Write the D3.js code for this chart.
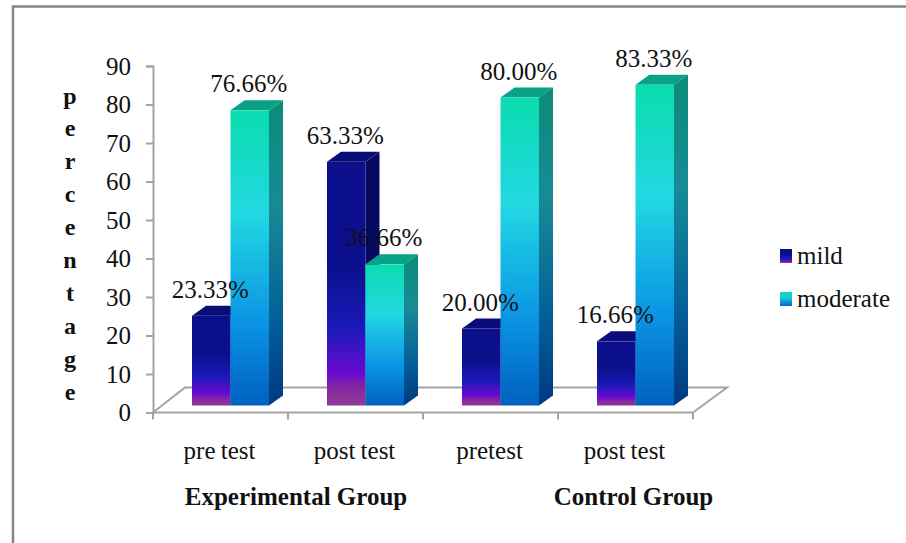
<!DOCTYPE html>
<html>
<head>
<meta charset="utf-8">
<script src="https://cdn.jsdelivr.net/npm/d3@7/dist/d3.min.js"></script>
<style>
  html, body { margin: 0; padding: 0; background: #fff; }
  svg { display: block; }
  text { font-family: "Liberation Serif", "Times New Roman", serif; fill: #111; }
</style>
</head>
<body>
<svg id="chart" width="906" height="543"></svg>
<script>
const categories = ["pre test", "post test", "pretest", "post test"];
const seriesNames = ["mild", "moderate"];
const mildValues = [23.33, 63.33, 20.00, 16.66];
const moderateValues = [76.66, 36.66, 80.00, 83.33];
const valueTicks = [0, 10, 20, 30, 40, 50, 60, 70, 80, 90];
const axisTitle = ["p", "e", "r", "c", "e", "n", "t", "a", "g", "e"];
const groupLabels = [
  { text: "Experimental Group", from: 0, to: 1 },
  { text: "Control Group", from: 3, to: 3 }
];

const svg = d3.select("#chart");
const AXIS_GREY = "#a3a3a3";

// Plot frame and the oblique depth of the 3D floor
const plotLeft = 153, plotRight = 693, plotBottom = 412.5, plotTop = 66;
const floorDx = 34, floorDy = 25;
const barDx = 14, barDy = 10, barBaseLift = 7;

const y = d3.scaleLinear().domain([0, 90]).range([plotBottom, plotTop]);
const x = d3.scaleBand().domain(d3.range(categories.length)).range([plotLeft, plotRight]);
const barW = 38.5;

// Outer chart border, open past the right and bottom edges of the page
svg.append("path")
  .attr("d", `M906,6.5 H13 V543`)
  .attr("fill", "none").attr("stroke", "#858585").attr("stroke-width", 2.5);

// Vertical gradients; each runs over the height of its own bar
const defs = svg.append("defs");
function gradient(id, stops) {
  const g = defs.append("linearGradient").attr("id", id)
    .attr("x1", 0).attr("y1", 0).attr("x2", 0).attr("y2", 1);
  stops.forEach(([o, c]) => g.append("stop").attr("offset", o).attr("stop-color", c));
}
gradient("mildFront", [[0, "#0c0f8c"], [0.42, "#0c0f8c"], [0.68, "#1a1ab8"], [0.87, "#6a0ad2"], [0.93, "#85289f"], [1, "#8c3c98"]]);
gradient("mildSide", [[0, "#060a62"], [0.42, "#060a62"], [0.68, "#101080"], [0.87, "#480a90"], [1, "#5c2a68"]]);
gradient("modFront", [[0, "#0adcae"], [0.35, "#22d8e2"], [0.72, "#0a94e4"], [1, "#0060c0"]]);
gradient("modSide", [[0, "#0a8c78"], [0.35, "#188a96"], [0.72, "#035f98"], [1, "#003a80"]]);

// Floor of the 3D plot
const g0 = svg.append("g");
g0.append("path")
  .attr("d", `M${plotLeft},${plotBottom} L${plotLeft + floorDx - 2},${plotBottom - floorDy} H${plotRight + floorDx} L${plotRight},${plotBottom}`)
  .attr("fill", "none").attr("stroke", AXIS_GREY).attr("stroke-width", 2);

// Value axis
const yAxis = d3.axisLeft(y).tickValues(valueTicks).tickSize(7).tickPadding(15);
const yG = svg.append("g").attr("transform", `translate(${plotLeft},0)`).call(yAxis);
yG.selectAll("path,line").attr("stroke", AXIS_GREY).attr("stroke-width", 2);
yG.selectAll("text").attr("font-size", 25).attr("font-family", "Liberation Serif").attr("fill", "#111");

// Category axis: labels sit mid-band, tick marks at the band edges
const xAxis = d3.axisBottom(x).tickSize(0).tickPadding(29).tickFormat(i => categories[i]);
const xG = svg.append("g").attr("transform", `translate(-1,${plotBottom})`).call(xAxis);
xG.select("path").remove();
xG.selectAll("text").attr("font-size", 25).attr("font-family", "Liberation Serif")
  .attr("fill", "#111").attr("word-spacing", -1);
const edges = d3.range(categories.length + 1).map(i => plotLeft + i * x.bandwidth());
svg.append("line").attr("x1", plotLeft).attr("x2", plotRight)
  .attr("y1", plotBottom).attr("y2", plotBottom)
  .attr("stroke", AXIS_GREY).attr("stroke-width", 2);
svg.selectAll(".edgeTick").data(edges).join("line").attr("class", "edgeTick")
  .attr("x1", d => d).attr("x2", d => d)
  .attr("y1", plotBottom).attr("y2", plotBottom + 7)
  .attr("stroke", AXIS_GREY).attr("stroke-width", 2);

// 3D bars: front face, right side and top, mild behind moderate
function drawBar(i, v, offset, front, side, topFill) {
  const xl = x(i) + 39 + offset * barW, xr = xl + barW;
  const yT = y(v) - barBaseLift, yB = y(0) - barBaseLift;
  const g = svg.append("g");
  g.append("path").attr("fill", `url(#${side})`)
    .attr("d", `M${xr},${yT} L${xr + barDx},${yT - barDy} V${yB - barDy} L${xr},${yB} Z`);
  g.append("path").attr("fill", topFill)
    .attr("d", `M${xl},${yT} L${xl + barDx},${yT - barDy} H${xr + barDx} L${xr},${yT} Z`);
  g.append("rect").attr("x", xl).attr("y", yT).attr("width", barW).attr("height", yB - yT)
    .attr("fill", `url(#${front})`);
}
categories.forEach((c, i) => {
  drawBar(i, mildValues[i], 0, "mildFront", "mildSide", "#0a0d78");
  drawBar(i, moderateValues[i], 1, "modFront", "modSide", "#0aa286");
});

// Value labels above each bar
function valueLabels(values, offset) {
  svg.selectAll(null).data(values).join("text")
    .attr("x", (d, i) => x(i) + 39 + offset * barW + barW / 2 - 1)
    .attr("y", d => y(d) - barBaseLift - 18)
    .attr("text-anchor", "middle").attr("font-size", 25)
    .text(d => d.toFixed(2) + "%");
}
valueLabels(mildValues, 0);
valueLabels(moderateValues, 1);

// Stacked axis title
svg.selectAll(".titleChar").data(axisTitle).join("text").attr("class", "titleChar")
  .attr("x", 70).attr("y", (d, i) => 103.5 + i * 32.9)
  .attr("text-anchor", "middle").attr("font-size", 24).attr("font-weight", "bold")
  .text(d => d);

// Group captions under the categories
svg.selectAll(".groupLabel").data(groupLabels).join("text").attr("class", "groupLabel")
  .attr("x", d => (x(d.from) + x(d.to) + x.bandwidth()) / 2 + 8)
  .attr("y", 505).attr("text-anchor", "middle")
  .attr("font-size", 25).attr("font-weight", "bold")
  .text(d => d.text);

// Legend
const legendFills = ["mildFront", "modLegend"];
gradient("modLegend", [[0, "#0adcae"], [0.4, "#18c8e2"], [1, "#0068cc"]]);
const legendY = d3.scalePoint().domain(seriesNames).range([263, 306]);
seriesNames.forEach((name, i) => {
  svg.append("rect").attr("x", 780).attr("y", legendY(name) - 14)
    .attr("width", 12).attr("height", 14).attr("fill", `url(#${legendFills[i]})`);
  svg.append("text").attr("x", 797).attr("y", legendY(name) + 0.5)
    .attr("font-size", 25).text(name);
});
</script>
</body>
</html>
